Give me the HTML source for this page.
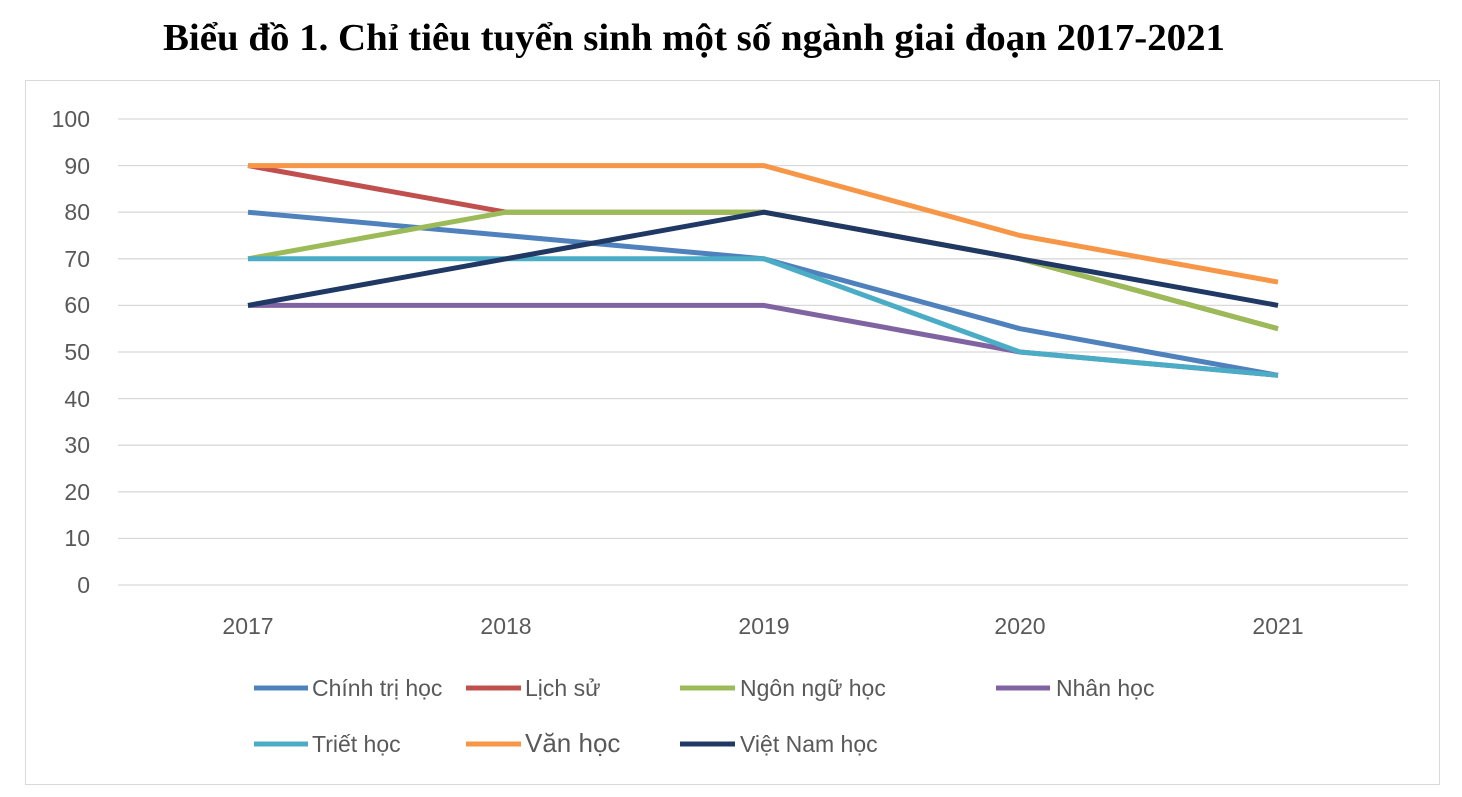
<!DOCTYPE html><html><head><meta charset="utf-8"><style>
body{margin:0;background:#fff;width:1462px;height:792px;overflow:hidden}
</style></head><body>
<svg width="1462" height="792" xmlns="http://www.w3.org/2000/svg" font-family="Liberation Sans, sans-serif">
<text x="694" y="50" text-anchor="middle" font-family="Liberation Serif, serif" font-weight="bold" font-size="38" textLength="1062" lengthAdjust="spacingAndGlyphs" fill="#000">Biểu đồ 1. Chỉ tiêu tuyển sinh một số ngành giai đoạn 2017-2021</text>
<rect x="25.5" y="80.5" width="1414" height="704" fill="none" stroke="#d9d9d9" stroke-width="1"/>
<g stroke="#d9d9d9" stroke-width="1.3">
<line x1="118" x2="1408" y1="119" y2="119"/><line x1="118" x2="1408" y1="165.6" y2="165.6"/><line x1="118" x2="1408" y1="212.2" y2="212.2"/><line x1="118" x2="1408" y1="258.8" y2="258.8"/><line x1="118" x2="1408" y1="305.4" y2="305.4"/><line x1="118" x2="1408" y1="352" y2="352"/><line x1="118" x2="1408" y1="398.6" y2="398.6"/><line x1="118" x2="1408" y1="445.2" y2="445.2"/><line x1="118" x2="1408" y1="491.8" y2="491.8"/><line x1="118" x2="1408" y1="538.4" y2="538.4"/><line x1="118" x2="1408" y1="585" y2="585"/>
</g>
<g font-size="23" fill="#595959" text-anchor="end">
<text x="90" y="127">100</text><text x="90" y="174">90</text><text x="90" y="220">80</text><text x="90" y="267">70</text><text x="90" y="313">60</text><text x="90" y="360">50</text><text x="90" y="407">40</text><text x="90" y="453">30</text><text x="90" y="500">20</text><text x="90" y="546">10</text><text x="90" y="593">0</text>
</g>
<g font-size="23" fill="#595959" text-anchor="middle">
<text x="248" y="634">2017</text><text x="506" y="634">2018</text><text x="764" y="634">2019</text><text x="1020" y="634">2020</text><text x="1278" y="634">2021</text>
</g>
<g fill="none" stroke-width="5" stroke-linejoin="round">
<polyline stroke="#4F81BD" points="248,212.2 506,235.5 764,258.8 1020,328.7 1278,375.3"/>
<polyline stroke="#C0504D" points="248,165.6 506,212.2 764,212.2 1020,258.8 1278,328.7"/>
<polyline stroke="#9BBB59" points="248,258.8 506,212.2 764,212.2 1020,258.8 1278,328.7"/>
<polyline stroke="#8064A2" points="248,305.4 506,305.4 764,305.4 1020,352 1278,375.3"/>
<polyline stroke="#4BACC6" points="248,258.8 506,258.8 764,258.8 1020,352 1278,375.3"/>
<polyline stroke="#F79646" points="248,165.6 506,165.6 764,165.6 1020,235.5 1278,282.1"/>
<polyline stroke="#1F3864" points="248,305.4 506,258.8 764,212.2 1020,258.8 1278,305.4"/>
</g>
<g stroke-width="5">
<line x1="254" x2="308" y1="688" y2="688" stroke="#4F81BD"/>
<line x1="466" x2="521" y1="688" y2="688" stroke="#C0504D"/>
<line x1="680" x2="735" y1="688" y2="688" stroke="#9BBB59"/>
<line x1="996" x2="1050" y1="688" y2="688" stroke="#8064A2"/>
<line x1="254" x2="308" y1="744" y2="744" stroke="#4BACC6"/>
<line x1="466" x2="521" y1="744" y2="744" stroke="#F79646"/>
<line x1="680" x2="735" y1="744" y2="744" stroke="#1F3864"/>
</g>
<g font-size="23" fill="#595959">
<text x="312" y="696">Chính trị học</text><text x="525" y="696">Lịch sử</text><text x="740" y="696">Ngôn ngữ học</text><text x="1056" y="696">Nhân học</text>
<text x="312" y="752">Triết học</text><text x="525" y="752" font-size="26">Văn học</text><text x="740" y="752">Việt Nam học</text>
</g>
</svg>
</body></html>
